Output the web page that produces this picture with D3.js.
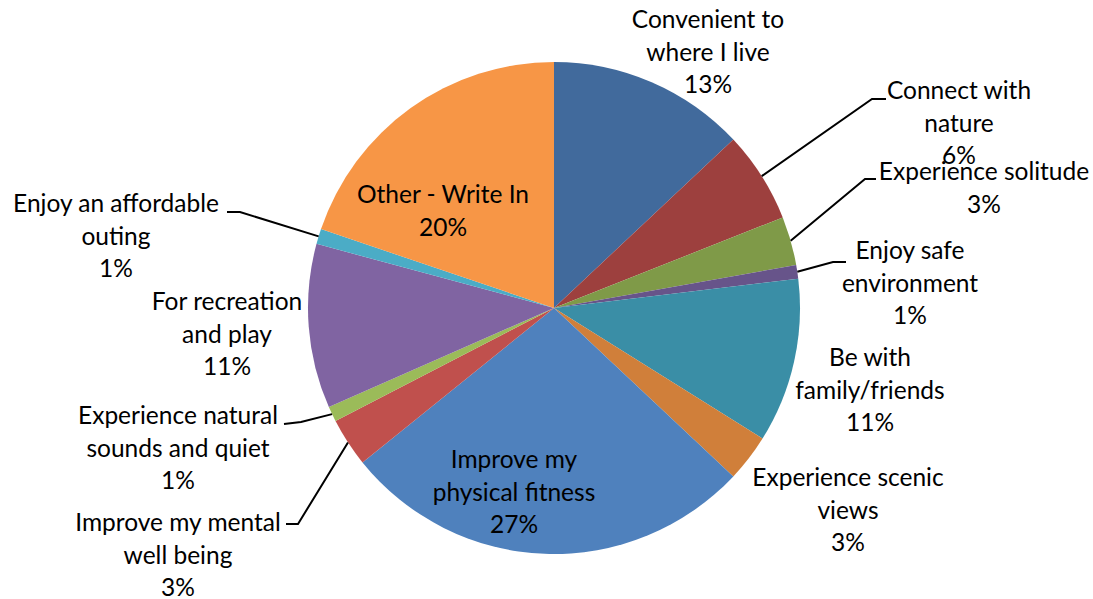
<!DOCTYPE html>
<html><head><meta charset="utf-8">
<script src="https://cdn.jsdelivr.net/npm/d3@7"></script>
<style>body{margin:0;background:#fff}svg{display:block}</style>
</head><body>
<svg id="c" width="1093" height="599"></svg>
<script>
const categories = ["Convenient to where I live","Connect with nature","Experience solitude","Enjoy safe environment","Be with family/friends","Experience scenic views","Improve my physical fitness","Improve my mental well being","Experience natural sounds and quiet","For recreation and play","Enjoy an affordable outing","Other - Write In"];
const values = [13.0, 6.0, 3.2, 0.9, 10.8, 3.1, 27.2, 3.2, 1.0, 10.8, 1.0, 19.8];
const percentLabels = ["13%","6%","3%","1%","11%","3%","27%","3%","1%","11%","1%","20%"];
const colors = ["#416A9C","#9D403E","#7F9A48","#67548A","#3A8EA6","#D07F3A","#4F81BD","#C0504D","#9BBB59","#8064A2","#4BACC6","#F79646"];

// layout (label text lines, center x, first baseline y, leader end points)
const labelLines = [["Convenient to","where I live"],["Connect with","nature"],["Experience solitude"],["Enjoy safe","environment"],["Be with","family/friends"],["Experience scenic","views"],["Improve my","physical fitness"],["Improve my mental","well being"],["Experience natural","sounds and quiet"],["For recreation","and play"],["Enjoy an affordable","outing"],["Other - Write In"]];
const labelPos = [[708,28],[959,99],[984,180],[910,259],[870,366],[848,486],[514,468],[178,531],[178,424],[227,310],[116,212],[443,203]];
const leaders = [null,[[872,99],[886,99]],[[865,179],[876,179]],[[833,262],[846,262]],null,null,null,[[298,524],[286,524]],[[301,422],[284,424]],null,[[240,212],[227,212]],null];

const cx = 554, cy = 308, R = 246, lh = 32.5;
const svg = d3.select("#c");
const pie = d3.pie().sort(null).value(d=>d)(values);
const arc = d3.arc().innerRadius(0).outerRadius(R);
const g = svg.append("g").attr("transform",`translate(${cx},${cy})`);
g.selectAll("path").data(pie).join("path").attr("d",arc).attr("fill",(d,i)=>colors[i]);

pie.forEach((d,i)=>{
  if(!leaders[i]) return;
  const a = (d.startAngle+d.endAngle)/2;
  const sx = cx + Math.sin(a)*R, sy = cy - Math.cos(a)*R;
  const pts = [[sx,sy]].concat(leaders[i]);
  svg.append("path").attr("d",d3.line()(pts)).attr("fill","none").attr("stroke","#000").attr("stroke-width",2);
});

pie.forEach((d,i)=>{
  const lines = labelLines[i].concat([percentLabels[i]]);
  const [x,y] = labelPos[i];
  const t = svg.append("text").attr("text-anchor","middle").attr("font-family","Lato, 'Open Sans', sans-serif").attr("font-size",24.5).attr("fill","#000");
  lines.forEach((l,k)=>t.append("tspan").attr("x",x).attr("y",y+k*lh).text(l));
});
</script>
</body></html>
